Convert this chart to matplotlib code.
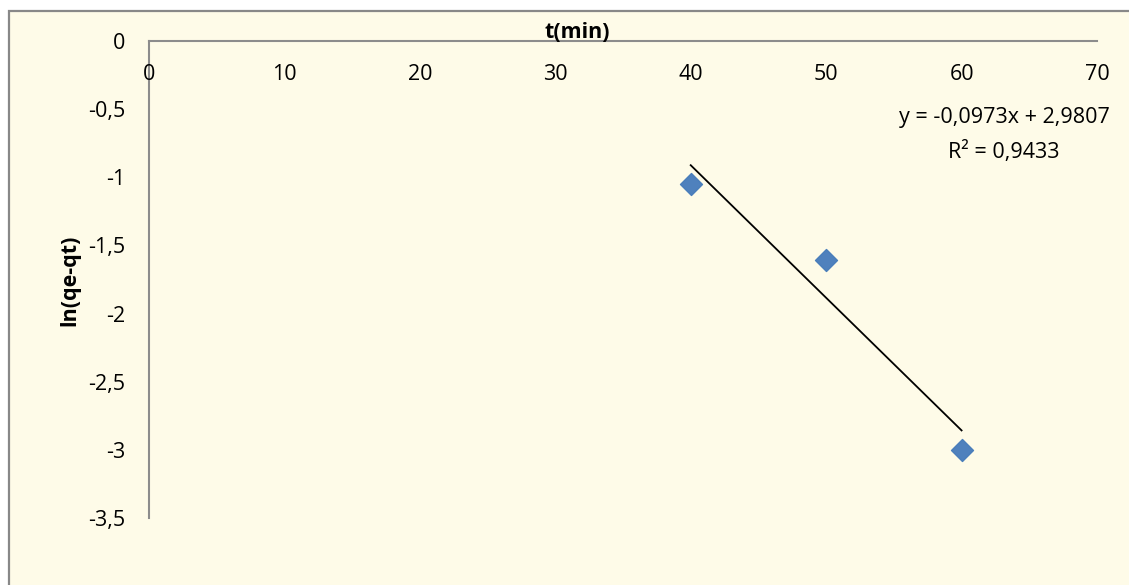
import matplotlib.pyplot as plt
import matplotlib.patches as patches
from matplotlib.ticker import FuncFormatter
from matplotlib.transforms import offset_copy

plt.rcParams['font.family'] = ['Open Sans', 'DejaVu Sans']

# data
t_min = [40, 50, 60]
ln_qe_qt = [-1.05, -1.61, -3.0]
x_ticks = [0, 10, 20, 30, 40, 50, 60, 70]
y_ticks = [0, -0.5, -1, -1.5, -2, -2.5, -3, -3.5]
slope = -0.0973
intercept = 2.9807
r2 = 0.9433

bg = '#fefbe8'
spine_col = '#8c8c8c'
fs = 15.5

fig = plt.figure(figsize=(11.29, 5.85), dpi=100)
fig.patch.set_facecolor('white')

# outer chart frame (cut off at right and bottom like the reference)
frame = patches.Rectangle((9 / 1129, -0.05), 1.2, 1 - 11 / 585 + 0.05,
                          transform=fig.transFigure, facecolor=bg,
                          edgecolor='#888888', linewidth=1.6, zorder=-5)
fig.patches.append(frame)

ax = fig.add_axes([149 / 1129, 1 - 518 / 585, (1097 - 149) / 1129, (518 - 41) / 585])
ax.set_zorder(2)
ax.set_facecolor('none')
ax.set_xlim(0, 70)
ax.set_ylim(-3.5, 0)

for side in ['right', 'bottom']:
    ax.spines[side].set_visible(False)
for side in ['top', 'left']:
    ax.spines[side].set_color(spine_col)
    ax.spines[side].set_linewidth(1.5)

comma = FuncFormatter(lambda v, p: ('%g' % v).replace('.', ','))
ax.set_xticks(x_ticks)
ax.set_yticks(y_ticks)
ax.yaxis.set_major_formatter(comma)
ax.tick_params(axis='x', bottom=False, top=False, labelbottom=False,
               labeltop=False, length=0)
ax.tick_params(axis='y', length=0, pad=17, labelsize=fs, labelcolor='black')

# x tick labels sit just under the top spine (y = 0)
lab_tr = offset_copy(ax.transData, fig=fig, x=0, y=-34, units='dots')
for xv in x_ticks:
    ax.text(xv, 0, comma(xv, None), transform=lab_tr,
            ha='center', va='center', fontsize=fs, color='black', clip_on=False)

ax.scatter(t_min, ln_qe_qt, marker='D', s=125, color='#4f81bd',
           edgecolors='#4a7ebb', zorder=3, clip_on=False)

fit_x = [min(t_min), max(t_min)]
fit_y = [slope * v + intercept for v in fit_x]
ax.plot(fit_x, fit_y, color='black', linewidth=1.3, zorder=2)

eq = 'y = ' + ('%.4f' % slope).replace('.', ',') + 'x + ' + ('%.4f' % intercept).replace('.', ',')
fig.text(1004 / 1129, 1 - 117 / 585, eq, ha='center', va='center', fontsize=fs)
fig.text(1004 / 1129, 1 - 152 / 585, 'R² = ' + ('%.4f' % r2).replace('.', ','),
         ha='center', va='center', fontsize=fs)

fig.text(577 / 1129, 1 - 33 / 585, 't(min)', ha='center', va='center',
         fontsize=fs, fontweight='bold')
fig.text(70 / 1129, 1 - 280 / 585, 'ln(qe-qt)', ha='center', va='center',
         rotation=90, fontsize=fs, fontweight='bold')

fig.savefig('out.png', dpi=100, facecolor='white')
